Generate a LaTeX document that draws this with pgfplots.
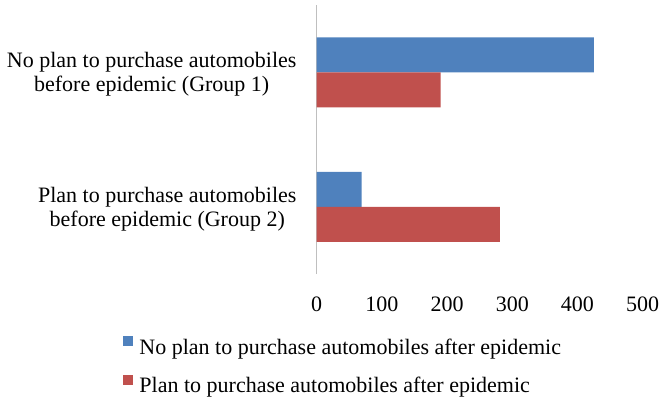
\documentclass[border=0pt]{standalone}
\usepackage{pgfplots}
\pgfplotsset{compat=1.18}
\usepackage{fontspec}
\setmainfont{Liberation Serif}
\definecolor{cblue}{HTML}{4F81BD}
\definecolor{cred}{HTML}{C0504D}
\definecolor{axgray}{HTML}{BFBFBF}
\begin{document}
\begin{tikzpicture}[font=\fontsize{22}{24}\selectfont]
\path[use as bounding box] (-316.7pt,-134pt) rectangle (352.3pt,274pt);
\begin{axis}[
  at={(0pt,0pt)}, anchor=south west,
  scale only axis,
  width=326pt, height=269pt,
  xbar,
  bar width=35pt,
  xmin=0, xmax=500,
  ymin=-0.5, ymax=1.5,
  xtick={0,100,200,300,400,500},
  ytick={0,1},
  yticklabels={{Plan to purchase automobiles\\before epidemic (Group 2)},{No plan to purchase automobiles\\before epidemic (Group 1)}},
  /pgf/number format/assume math mode=true,
  axis x line*=bottom, axis y line*=left,
  x axis line style={draw=none},
  y axis line style={axgray, line width=1.2pt},
  major tick length=0pt,
  xticklabel style={anchor=north, inner sep=0pt, yshift=-23pt},
  yticklabel style={anchor=east, align=center, inner sep=0pt, xshift=-20pt, yshift=-2pt},
  legend style={at={(-0.5933,-0.2300)}, anchor=north west, draw=none, fill=none,
    inner sep=0pt, row sep=19.2pt, column sep=6pt, nodes={inner sep=0pt}},
  legend cell align=left,
  legend image code/.code={\fill[#1] (0pt,1pt) rectangle (10pt,11pt);},
]
\addplot[fill=cblue, draw=none, bar shift=17.5pt] coordinates {(69,0) (425,1)};
\addplot[fill=cred, draw=none, bar shift=-17.5pt] coordinates {(281,0) (190,1)};
\legend{No plan to purchase automobiles after epidemic, Plan to purchase automobiles after epidemic}
\end{axis}
\end{tikzpicture}
\end{document}
